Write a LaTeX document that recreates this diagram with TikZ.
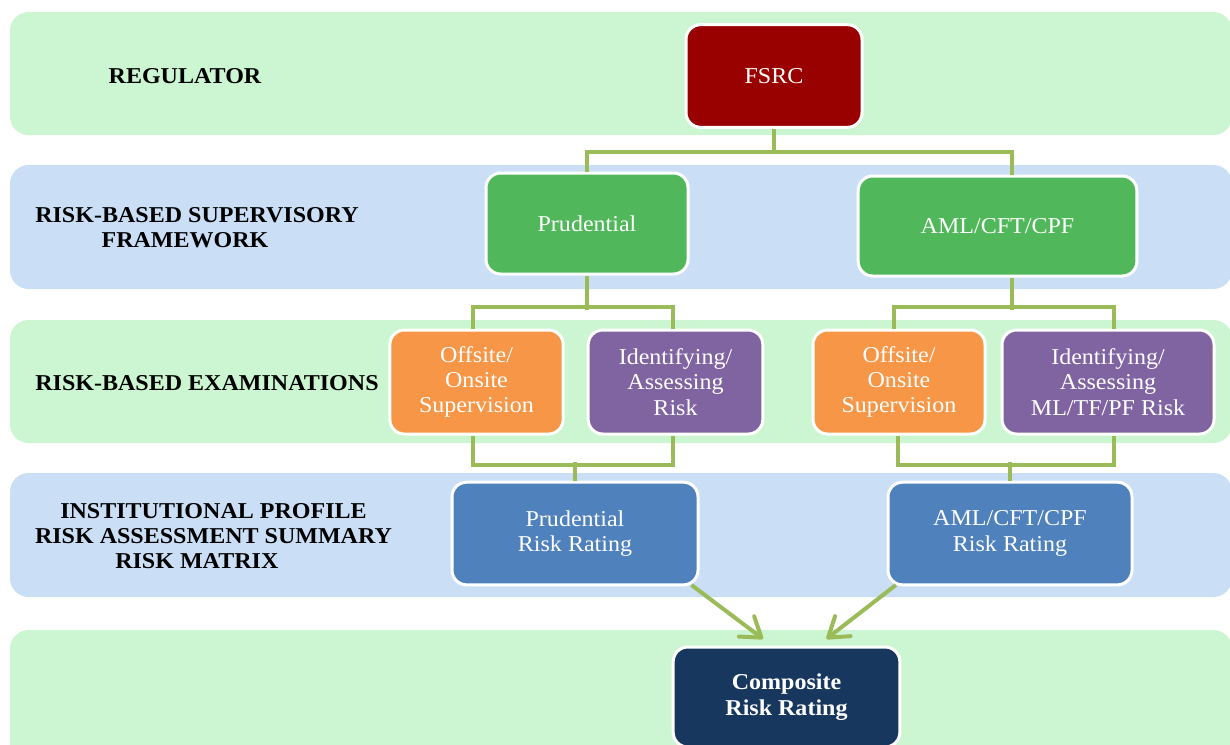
\documentclass[tikz,border=0pt]{standalone}
\usepackage{fontspec}
\setmainfont{Liberation Serif}[FakeStretch=1.06]
\usetikzlibrary{arrows.meta}
\definecolor{bandgreen}{RGB}{204,246,210}
\definecolor{bandblue}{RGB}{202,223,246}
\definecolor{fsrcred}{RGB}{153,0,0}
\definecolor{boxgreen}{RGB}{80,184,90}
\definecolor{boxorange}{RGB}{247,150,70}
\definecolor{boxpurple}{RGB}{128,100,162}
\definecolor{boxblue}{RGB}{79,129,189}
\definecolor{boxnavy}{RGB}{23,55,94}
\definecolor{linkgreen}{RGB}{155,187,89}
\begin{document}
\begin{tikzpicture}[x=0.75pt,y=-0.75pt,
  band/.style={rounded corners=14pt},
  lbl/.style={font=\bfseries\fontsize{17}{18.5}\selectfont, text=black, align=center, inner sep=0pt},
  box/.style={draw=white, line width=2.25pt, rounded corners=11pt, text=white, align=center,
              font=\fontsize{17}{19}\selectfont, inner sep=2pt},
  conn/.style={draw=linkgreen, line width=3pt},
  arr/.style={draw=linkgreen, line width=3pt, -{Straight Barb[length=14pt,width=19pt,round]}}]
\useasboundingbox (0,0) rectangle (1230,744);
\clip (0,0) rectangle (1230,744);

% horizontal bands
\fill[bandgreen, band] (10,12)  rectangle (1232,135);
\fill[bandblue,  band] (10,165) rectangle (1232,289);
\fill[bandgreen, band] (10,320) rectangle (1232,443);
\fill[bandblue,  band] (10,473) rectangle (1232,597);
\fill[bandgreen, band] (10,630) rectangle (1232,790);

% band titles
\node[lbl] (lreg)  at (185,76)    {REGULATOR};
\node[lbl] (lrbsf) at (197,227.5) {RISK-BASED SUPERVISORY\\FRAMEWORK\hspace*{18pt}};
\node[lbl] (lrbe)  at (207,383)   {RISK-BASED EXAMINATIONS};
\node[lbl] (lipr)  at (213.5,536) {INSTITUTIONAL PROFILE\\RISK ASSESSMENT SUMMARY\\RISK MATRIX\hspace*{25pt}};

% boxes
\node[box, fill=fsrcred,   minimum width=132pt, minimum height=77pt] (fsrc) at (774,76) {FSRC};
\node[box, fill=boxgreen,  minimum width=151.5pt, minimum height=75.75pt] (prud) at (587,223.5) {Prudential};
\node[box, fill=boxgreen,  minimum width=209pt, minimum height=75pt] (aml) at (997.5,226) {AML/CFT/CPF};
\node[box, fill=boxorange, minimum width=130pt, minimum height=78pt] (offl) at (476.5,382) {Offsite/\\Onsite\\Supervision};
\node[box, fill=boxpurple, minimum width=131pt, minimum height=78pt] (idl) at (675.5,382) {Identifying/\\Assessing\\Risk};
\node[box, fill=boxorange, minimum width=129pt, minimum height=78pt] (offr) at (899,382) {Offsite/\\Onsite\\Supervision};
\node[box, fill=boxpurple, minimum width=159pt, minimum height=78pt] (idr) at (1108,382) {Identifying/\\Assessing\\ML/TF/PF Risk};
\node[box, fill=boxblue,   minimum width=184.5pt, minimum height=77pt] (prr) at (575,533.5) {Prudential\\Risk Rating};
\node[box, fill=boxblue,   minimum width=183pt, minimum height=77pt] (arr) at (1010,533.5) {AML/CFT/CPF\\Risk Rating};
\node[box, fill=boxnavy,   minimum width=170pt, minimum height=75pt, font=\bfseries\fontsize{17}{19}\selectfont] (comp) at (786.5,697) {Composite\\Risk Rating};

% regulator to frameworks
\draw[conn] (fsrc.south) -- ++(0,25);
\draw[conn] (prud.north) -- ++(0,-20) -| ([xshift=11pt]aml.north);

% prudential branch
\draw[conn] (prud.south) -- ++(0,34);
\draw[conn] ([xshift=-3pt]offl.north) -- ++(0,-22) -| ([xshift=-2pt]idl.north);
\draw[conn] ([xshift=-3pt]offl.south) -- ++(0,29) -| ([xshift=-2pt]idl.south);
\draw[conn] (prr.north) -- ++(0,-19);

% AML/CFT/CPF branch
\draw[conn] ([xshift=11pt]aml.south) -- ++(0,32);
\draw[conn] ([xshift=-3.5pt]offr.north) -- ++(0,-22) -| ([xshift=4.5pt]idr.north);
\draw[conn] ([xshift=-1pt]offr.south) -- ++(0,29) -| ([xshift=4.5pt]idr.south);
\draw[conn] (arr.north) -- ++(0,-19);

% ratings into the composite
\draw[arr] ([xshift=-6pt,yshift=1pt]prr.south east) -- ([xshift=-17.6pt,yshift=5pt]comp.north);
\draw[arr] ([xshift=7pt,yshift=1pt]arr.south west) -- ([xshift=30pt,yshift=5pt]comp.north);
\end{tikzpicture}
\end{document}
